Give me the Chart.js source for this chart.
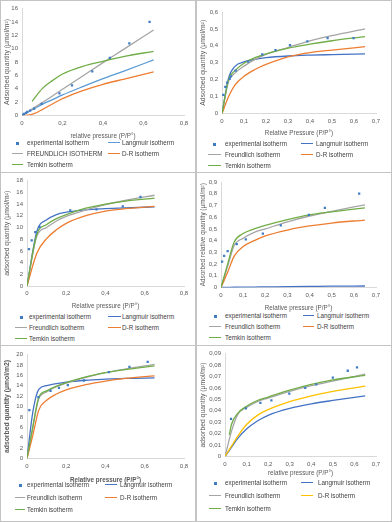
<!DOCTYPE html>
<html>
<head>
<meta charset="utf-8">
<script src="https://cdn.jsdelivr.net/npm/chart.js@4.4.1/dist/chart.umd.min.js"></script>
<style>
body { margin: 0; width: 392px; height: 522px; position: relative; background: #fff; overflow: hidden;
       font-family: "Liberation Sans", Arial, sans-serif; }
.panel { position: absolute; border: 1px solid #c4c4c4; box-sizing: border-box; }
canvas { position: absolute; }
.lg { position: absolute; font-size: 6.3px; color: #404040; white-space: nowrap; line-height: 8px; }
.sw { position: absolute; height: 0; }
.mk { position: absolute; width: 3px; height: 3px; }
</style>
</head>
<body>
<script>
// common x grid of the fitted curves
const fitX = [0, 0.03, 0.06, 0.1, 0.15, 0.2, 0.3, 0.4, 0.5, 0.65];
const fitX5 = [0, 0.05, 0.1, 0.15, 0.2, 0.3, 0.4, 0.5, 0.65];

// panel 1
const p1ExpX = [0.005, 0.01, 0.02, 0.026, 0.04, 0.06, 0.097, 0.185, 0.247, 0.347, 0.434, 0.53, 0.63];
const p1ExpY = [0.05, 0.2, 0.35, 0.5, 0.7, 1.0, 1.7, 3.3, 4.5, 6.6, 8.6, 10.8, 14.0];
const p1Langmuir = [0, 0.5, 1.0, 1.65, 2.35, 3.05, 4.3, 5.5, 6.6, 8.3];
const p1Freundlich = [0, 0.55, 1.15, 1.9, 2.9, 3.9, 5.9, 7.9, 9.85, 12.8];
const p1DR = [0, 0.02, 0.25, 0.85, 1.7, 2.5, 3.7, 4.65, 5.4, 6.5];
const p1TemkinX = [0.05, 0.1, 0.15, 0.2, 0.3, 0.4, 0.5, 0.65];
const p1Temkin = [2.1, 4.0, 5.2, 6.2, 7.35, 8.1, 8.8, 9.6];

// panel 2
const p2ExpX = [0.006, 0.015, 0.023, 0.035, 0.041, 0.062, 0.119, 0.183, 0.243, 0.309, 0.388, 0.48, 0.598];
const p2ExpY = [0.11, 0.158, 0.182, 0.204, 0.22, 0.253, 0.307, 0.35, 0.374, 0.404, 0.426, 0.446, 0.446];
const p2Langmuir = [0, 0.21, 0.28, 0.305, 0.32, 0.33, 0.34, 0.345, 0.348, 0.352];
const p2Freundlich = [0, 0.19, 0.24, 0.28, 0.32, 0.35, 0.39, 0.43, 0.46, 0.5];
const p2DR = [0, 0.1, 0.17, 0.22, 0.26, 0.29, 0.335, 0.36, 0.375, 0.395];
const p2Temkin = [0, 0.2, 0.255, 0.297, 0.33, 0.352, 0.386, 0.41, 0.43, 0.455];

// panel 3
const p3ExpX = [0.01, 0.024, 0.042, 0.064, 0.22, 0.354, 0.488, 0.578];
const p3ExpY = [6.3, 7.8, 9.2, 10.1, 12.9, 13.1, 13.6, 15.2];
const p3Langmuir = [0, 9.3, 11.3, 12.2, 12.6, 13.0, 13.2, 13.35, 13.5];
const p3Freundlich = [0, 8.5, 10.0, 11.1, 11.9, 13.0, 13.9, 14.6, 15.5];
const p3DR = [0, 5.6, 8.1, 9.6, 10.7, 12.0, 12.8, 13.2, 13.6];
const p3Temkin = [0, 8.8, 10.5, 11.5, 12.2, 13.3, 14.0, 14.5, 15.0];

// panel 4
const p4ExpX = [0.005, 0.014, 0.03, 0.071, 0.112, 0.189, 0.27, 0.397, 0.469, 0.624];
const p4ExpY = [0.22, 0.27, 0.31, 0.37, 0.41, 0.46, 0.53, 0.62, 0.68, 0.8];
const p4Langmuir = [0, 0.001, 0.002, 0.003, 0.004, 0.005, 0.007, 0.009, 0.011, 0.013];
const p4Freundlich = [0, 0.18, 0.36, 0.42, 0.47, 0.5, 0.56, 0.61, 0.65, 0.705];
const p4DR = [0, 0.13, 0.27, 0.35, 0.4, 0.44, 0.49, 0.525, 0.55, 0.575];
const p4Temkin = [0, 0.2, 0.39, 0.46, 0.5, 0.53, 0.58, 0.62, 0.645, 0.68];

// panel 5
const p5ExpX = [0.012, 0.058, 0.12, 0.163, 0.208, 0.29, 0.417, 0.522, 0.615];
const p5ExpY = [9.3, 11.8, 13.0, 13.6, 14.1, 15.0, 16.6, 17.6, 18.6];
const p5Langmuir = [0, 9.0, 13.3, 14.0, 14.4, 14.7, 15.05, 15.25, 15.4, 15.5];
const p5Freundlich = [0, 6.0, 11.5, 12.8, 13.8, 14.5, 15.6, 16.5, 17.2, 18.1];
const p5DR = [0, 4.5, 9.3, 11.2, 12.4, 13.2, 14.2, 14.9, 15.4, 15.9];
const p5Temkin = [0, 6.2, 11.8, 13.0, 13.9, 14.6, 15.7, 16.5, 17.1, 17.8];

// panel 6
const p6ExpX = [0.028, 0.097, 0.164, 0.215, 0.298, 0.372, 0.423, 0.5, 0.569, 0.612];
const p6ExpY = [0.033, 0.042, 0.047, 0.049, 0.055, 0.06, 0.063, 0.069, 0.075, 0.078];
const p6Langmuir = [0, 0.008, 0.016, 0.024, 0.031, 0.036, 0.042, 0.046, 0.049, 0.053];
const p6Freundlich = [0, 0.022, 0.037, 0.043, 0.048, 0.051, 0.057, 0.062, 0.066, 0.072];
const p6DR = [0, 0.009, 0.018, 0.028, 0.036, 0.041, 0.048, 0.053, 0.057, 0.0615];
const p6TemkinX = [0.02, 0.03, 0.06, 0.1, 0.15, 0.2, 0.3, 0.4, 0.5, 0.65];
const p6Temkin = [0.019, 0.028, 0.038, 0.044, 0.049, 0.052, 0.058, 0.063, 0.067, 0.071];

const namesLower = ["experimental isotherm", "Langmuir isotherm", "Freundlich isotherm", "D-R isotherm", "Temkin isotherm"];
const namesP1 = ["experimental isotherm", "Langmuir isotherm", "FREUNDLICH ISOTHERM", "D-R isotherm", "Temkin isotherm"];

const pts = (xs, ys) => xs.map((x, i) => ({ x: x, y: ys[i] }));
const comma = v => String(+v.toFixed(2)).replace(".", ",");

function makePanel(p) {
    const box = document.createElement("div");
    box.className = "panel";
    box.style.left = p.box[0] + "px"; box.style.top = p.box[1] + "px";
    box.style.width = p.box[2] + "px"; box.style.height = p.box[3] + "px";
    document.body.appendChild(box);

    const cl = p.box[0] + 1, ct = p.box[1] + 1, cw = p.box[2] - 2;
    const ch = Math.round(p.xTitleY + 3.6 - ct);
    const cv = document.createElement("canvas");
    cv.width = cw; cv.height = ch;
    cv.style.left = cl + "px"; cv.style.top = ct + "px";
    cv.style.width = cw + "px"; cv.style.height = ch + "px";
    document.body.appendChild(cv);

    const titleFont = { family: "Liberation Sans", size: p.titleSize || 6.3, weight: p.bold ? "bold" : "normal" };
    const yTitleFont = { family: "Liberation Sans", size: p.yTitleSize || 6.8, weight: p.bold ? "bold" : "normal" };
    const tickFont = { family: "Liberation Sans", size: 6 };
    const line = (label, xs, ys, color) => ({
        label: label, data: pts(xs, ys), showLine: true, pointRadius: 0,
        borderColor: color, borderWidth: 1.3, cubicInterpolationMode: "monotone", fill: false
    });

    new Chart(cv, {
        type: "scatter",
        data: {
            datasets: [
                { label: p.names[0], data: pts(p.expX, p.expY), showLine: false, pointStyle: "rect",
                  pointRadius: 1.6, backgroundColor: "#3f7cc4", borderColor: "#3f7cc4", borderWidth: 0 },
                line(p.names[4], p.temkinX || p.fitX, p.temkin, "#70ad47"),
                line(p.names[3], p.fitX, p.dr, p.drColor || "#ed7d31"),
                line(p.names[2], p.fitX, p.freundlich, "#a5a5a5"),
                line(p.names[1], p.fitX, p.langmuir, p.lColor || "#4472c4")
            ]
        },
        options: {
            responsive: false, animation: false, events: [],
            layout: { padding: { left: 0, top: p.area[1] - ct, right: cl + cw - p.area[2], bottom: 0 } },
            plugins: { legend: { display: false }, tooltip: { enabled: false } },
            scales: {
                x: {
                    type: "linear", min: 0, max: p.xMax,
                    ticks: { stepSize: p.xStep, font: tickFont, color: "#595959", padding: 4, callback: comma, maxRotation: 0 },
                    grid: { display: false, drawTicks: false }, border: { color: "#d9d9d9" },
                    title: { display: true, text: p.xTitle, font: titleFont, color: "#595959", padding: 0 },
                    afterFit: s => { s.height = ct + ch - p.area[3]; }
                },
                y: {
                    min: 0, max: p.yMax,
                    ticks: { stepSize: p.yStep, font: tickFont, color: "#595959", padding: 4, callback: comma },
                    grid: { display: false, drawTicks: false }, border: { color: "#d9d9d9" },
                    title: { display: true, text: p.yTitle, font: yTitleFont, color: "#595959",
                             padding: { top: p.yTitleX - cl - yTitleFont.size * 0.6, bottom: 0 } },
                    afterFit: s => { s.width = p.area[0] - cl; }
                }
            }
        }
    });

    // legend, two columns like the original
    const cols = p.legCols; // [sampleStart, sampleEnd, textX] for each column
    const slots = [[0, 0], [0, 1], [1, 0], [1, 1], [2, 0]];
    const colors = ["#3f7cc4", p.lColor || "#4472c4", "#a5a5a5", p.drColor || "#ed7d31", "#70ad47"];
    slots.forEach((s, i) => {
        const y = p.legRows[s[0]];
        const c = cols[s[1]];
        if (i === 0) {
            const mk = document.createElement("div");
            mk.className = "mk";
            mk.style.background = colors[0];
            mk.style.left = ((c[0] + c[1]) / 2 - 1.5) + "px";
            mk.style.top = (y - 1.5) + "px";
            document.body.appendChild(mk);
        } else {
            const sw = document.createElement("div");
            sw.className = "sw";
            sw.style.borderTop = "1.5px solid " + colors[i];
            sw.style.left = c[0] + "px"; sw.style.width = (c[1] - c[0]) + "px";
            sw.style.top = (y - 0.75) + "px";
            document.body.appendChild(sw);
        }
        const t = document.createElement("div");
        t.className = "lg";
        t.textContent = p.names[i];
        t.style.left = c[2] + "px";
        t.style.top = (y - 4) + "px";
        document.body.appendChild(t);
    });
}

makePanel({
    box: [0, 0, 196, 173], area: [22, 7.5, 184, 115.3], xTitleY: 136, yTitleX: 7,
    xMax: 0.8, xStep: 0.2, yMax: 16, yStep: 2,
    xTitle: "relative pressure (P/P°)", yTitle: "Adsorbed quantity (µmol/m²)",
    expX: p1ExpX, expY: p1ExpY, fitX: fitX, langmuir: p1Langmuir, freundlich: p1Freundlich,
    dr: p1DR, temkin: p1Temkin, temkinX: p1TemkinX, lColor: "#5b9bd5",
    names: namesP1, legRows: [143, 154, 165], legCols: [[12, 23, 27], [108, 120, 122]]
});
makePanel({
    box: [196, 0, 196, 173], area: [222, 12, 376, 113.5], xTitleY: 133, yTitleX: 203,
    xMax: 0.7, xStep: 0.1, yMax: 0.6, yStep: 0.1,
    xTitle: "Relative Pressure (P/P°)", yTitle: "Adsorbed quantity (µmol/m²)",
    expX: p2ExpX, expY: p2ExpY, fitX: fitX, langmuir: p2Langmuir, freundlich: p2Freundlich,
    dr: p2DR, temkin: p2Temkin,
    names: namesLower, legRows: [144, 155, 166], legCols: [[208, 221, 225], [301, 313, 316]]
});
makePanel({
    box: [0, 172, 196, 174], area: [27, 179, 184, 286], xTitleY: 306, yTitleX: 7,
    xMax: 0.8, xStep: 0.2, yMax: 18, yStep: 2,
    xTitle: "Relative pressure (P/P°)", yTitle: "adsorbed quantity (µmol/m²)",
    expX: p3ExpX, expY: p3ExpY, fitX: fitX5, langmuir: p3Langmuir, freundlich: p3Freundlich,
    dr: p3DR, temkin: p3Temkin,
    names: namesLower, legRows: [317, 328, 339], legCols: [[15, 27, 29], [108, 121, 122]]
});
makePanel({
    box: [196, 172, 196, 174], area: [221, 182, 376, 287.5], xTitleY: 308, yTitleX: 203, yTitleSize: 6.4,
    xMax: 0.7, xStep: 0.1, yMax: 0.9, yStep: 0.1,
    xTitle: "Relative pressure (P/P°)", yTitle: "Adsorbed relative quantity (µmol/m²)",
    expX: p4ExpX, expY: p4ExpY, fitX: fitX, langmuir: p4Langmuir, freundlich: p4Freundlich,
    dr: p4DR, temkin: p4Temkin,
    names: namesLower, legRows: [316, 327, 338], legCols: [[209, 221, 225], [303, 314, 317]]
});
makePanel({
    box: [0, 345, 196, 177], area: [27, 354.5, 184, 458.5], xTitleY: 480, yTitleX: 7, bold: true,
    xMax: 0.8, xStep: 0.2, yMax: 20, yStep: 2,
    xTitle: "Relative pressure (P/P°)", yTitle: "adsorbed quantity (µmol/m2)",
    expX: p5ExpX, expY: p5ExpY, fitX: fitX, langmuir: p5Langmuir, freundlich: p5Freundlich,
    dr: p5DR, temkin: p5Temkin,
    names: namesLower, legRows: [485, 498, 510], legCols: [[15, 25, 27], [105, 117, 120]]
});
makePanel({
    box: [196, 345, 196, 177], area: [225, 353.5, 376, 456.5], xTitleY: 473, yTitleX: 203,
    xMax: 0.7, xStep: 0.1, yMax: 0.09, yStep: 0.01,
    xTitle: "relative pressure (P/P°)", yTitle: "adsorbed quantity (µmol/m²)",
    expX: p6ExpX, expY: p6ExpY, fitX: fitX, langmuir: p6Langmuir, freundlich: p6Freundlich,
    dr: p6DR, temkin: p6Temkin, temkinX: p6TemkinX, drColor: "#ffc000",
    names: namesLower, legRows: [483, 496, 509], legCols: [[209, 221, 225], [301, 313, 318]]
});
</script>
</body>
</html>
